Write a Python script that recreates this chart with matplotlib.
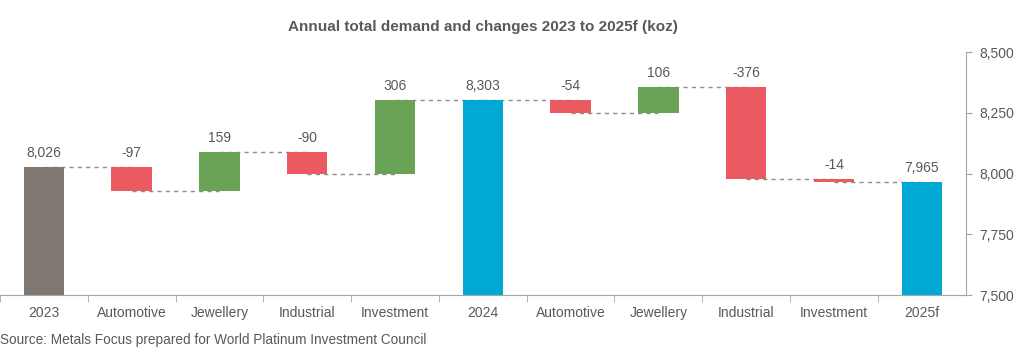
import numpy as np
import matplotlib.pyplot as plt
from matplotlib.ticker import FuncFormatter, FixedLocator

plt.rcParams['font.family'] = ['Liberation Sans', 'DejaVu Sans']

# waterfall data (koz)
categories = ["2023", "Automotive", "Jewellery", "Industrial", "Investment", "2024",
              "Automotive", "Jewellery", "Industrial", "Investment", "2025f"]
values = [8026, -97, 159, -90, 306, 8303, -54, 106, -376, -14, 7965]
is_total = [True, False, False, False, False, True, False, False, False, False, True]
total_colors = ["#7f7770", "#00a8d4", "#00a8d4"]

up_color = "#6aa356"
down_color = "#e95b60"
text_color = "#595959"
axis_color = "#a6a6a6"

ymin, ymax = 7500, 8500

bottoms = []
heights = []
colors = []
levels = []
level = 0
ti = 0
for v, tot in zip(values, is_total):
    if tot:
        level = v
        bottoms.append(ymin)
        heights.append(v - ymin)
        colors.append(total_colors[ti])
        ti += 1
    else:
        start = level
        level = level + v
        bottoms.append(min(start, level))
        heights.append(abs(v))
        colors.append(up_color if v > 0 else down_color)
    levels.append(level)

fig = plt.figure(figsize=(10.24, 3.62), dpi=100)
ax = fig.add_axes([0.0, 0.185, 0.943, 0.671])

x = np.arange(len(categories))
ax.bar(x, heights, bottom=bottoms, width=0.46, color=colors, zorder=3)

# dashed connectors
for i in range(len(x) - 1):
    ax.plot([x[i], x[i + 1]], [levels[i], levels[i]], ls=(0, (3, 3)),
            color="#8c8c8c", lw=1.0, zorder=2)

# value labels
for i, v in enumerate(values):
    top = bottoms[i] + heights[i]
    label = f"{v:,}" if is_total[i] else f"{v}"
    ax.annotate(label, (x[i], top), xytext=(0, 5), textcoords="offset points",
                ha="center", va="bottom", fontsize=10, color=text_color)

ax.set_xlim(-0.5, len(categories) - 0.5)
ax.set_ylim(ymin, ymax)

ax.yaxis.tick_right()
ax.set_yticks([7500, 7750, 8000, 8250, 8500])
ax.yaxis.set_major_formatter(FuncFormatter(lambda v, p: f"{int(v):,}"))
ax.tick_params(axis="y", colors=axis_color, labelcolor=text_color, labelsize=10,
               length=4, pad=6)

ax.set_xticks(x)
ax.set_xticklabels(categories)
ax.xaxis.set_minor_locator(FixedLocator(np.arange(-0.5, len(categories) - 0.5, 1.0)))
ax.tick_params(axis="x", which="major", length=0, labelsize=10, labelcolor=text_color, pad=8)
ax.tick_params(axis="x", which="minor", length=5, color=axis_color)

for s in ["top", "left"]:
    ax.spines[s].set_visible(False)
ax.spines["bottom"].set_color(axis_color)
ax.spines["right"].set_color(axis_color)

fig.text(0.472, 0.925, "Annual total demand and changes 2023 to 2025f (koz)",
         ha="center", va="center", fontsize=11, fontweight="bold", color=text_color)
fig.text(0.0, 0.06, "Source: Metals Focus prepared for World Platinum Investment Council",
         ha="left", va="center", fontsize=9.8, color=text_color)

fig.savefig("out.png", dpi=100)
